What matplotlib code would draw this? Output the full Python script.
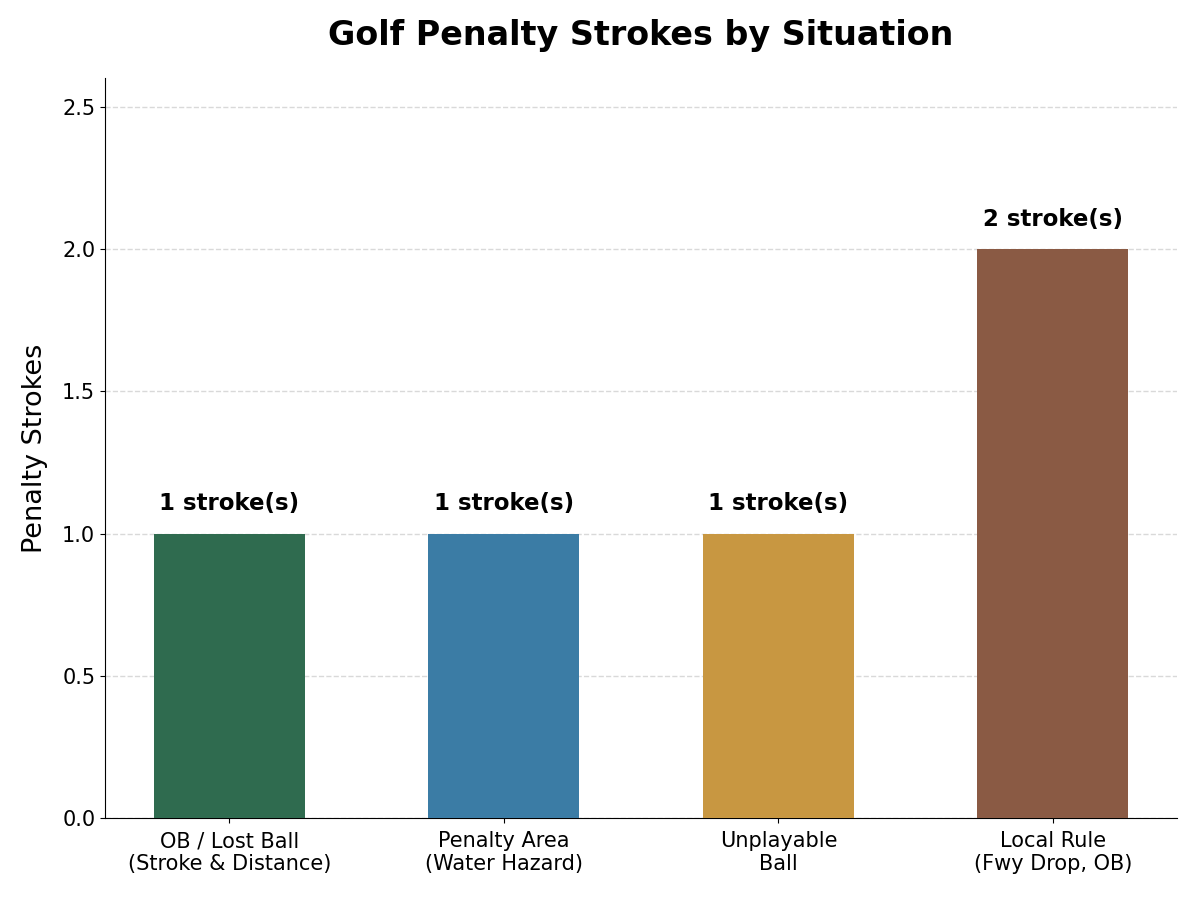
import numpy as np
import matplotlib.pyplot as plt

situations = ['OB / Lost Ball\n(Stroke & Distance)', 'Penalty Area\n(Water Hazard)',
              'Unplayable\nBall', 'Local Rule\n(Fwy Drop, OB)']
strokes = [1, 1, 1, 2]
colors = ['#2f6b4f', '#3b7ca5', '#c89741', '#8a5a44']

fig, ax = plt.subplots(figsize=(12, 9), dpi=100)
fig.subplots_adjust(left=0.0875, right=0.981, top=0.913, bottom=0.091)

x = np.arange(len(situations))
bars = ax.bar(x, strokes, width=0.55, color=colors, zorder=3)

for b, v in zip(bars, strokes):
    ax.text(b.get_x() + b.get_width() / 2, v + 0.065, f'{v} stroke(s)',
            ha='center', va='bottom', fontsize=16.5, fontweight='bold')

ax.set_xticks(x)
ax.set_xticklabels(situations, fontsize=15)
ax.tick_params(axis='x', pad=6)
ax.tick_params(axis='y', labelsize=15)
ax.set_ylim(0, 2.6)
ax.set_ylabel('Penalty Strokes', fontsize=19.5, labelpad=10)
ax.set_title('Golf Penalty Strokes by Situation', fontsize=24, fontweight='bold', pad=24)
ax.yaxis.grid(True, linestyle='--', color='#d9d9d9', linewidth=1, zorder=0)
ax.spines['top'].set_visible(False)
ax.spines['right'].set_visible(False)

plt.savefig('out.png')
